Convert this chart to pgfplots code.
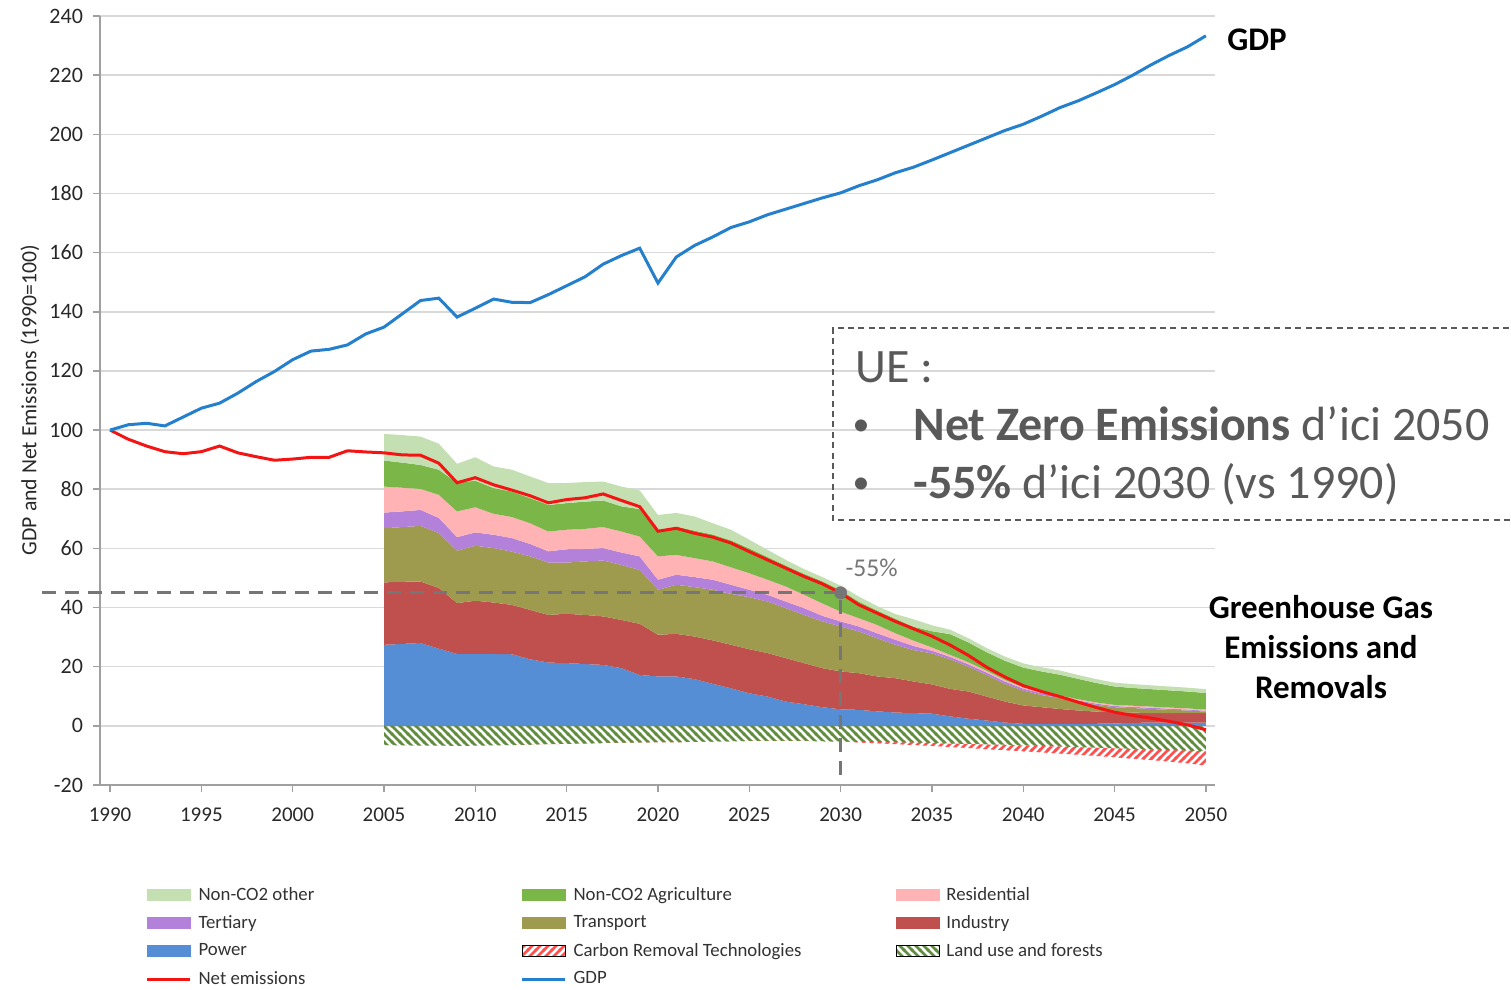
\documentclass[border=0pt]{standalone}
\usepackage{fontspec}
\setmainfont{Carlito}
\usepackage{pgfplots}
\usepackage{pgfplotstable}
\pgfplotsset{compat=1.18}
\usepgfplotslibrary{fillbetween}
\usetikzlibrary{patterns}

\pgfdeclarepatternformonly{hatchNE}{\pgfqpoint{-1pt}{-1pt}}{\pgfqpoint{5pt}{5pt}}{\pgfqpoint{4pt}{4pt}}{%
  \pgfsetlinewidth{1.4pt}%
  \pgfpathmoveto{\pgfqpoint{-0.5pt}{-0.5pt}}%
  \pgfpathlineto{\pgfqpoint{4.5pt}{4.5pt}}%
  \pgfusepath{stroke}}
\pgfdeclarepatternformonly{hatchNW}{\pgfqpoint{-1pt}{-1pt}}{\pgfqpoint{5pt}{5pt}}{\pgfqpoint{4pt}{4pt}}{%
  \pgfsetlinewidth{1.4pt}%
  \pgfpathmoveto{\pgfqpoint{-0.5pt}{4.5pt}}%
  \pgfpathlineto{\pgfqpoint{4.5pt}{-0.5pt}}%
  \pgfusepath{stroke}}

\definecolor{cother}{RGB}{196,224,178}
\definecolor{cagri}{RGB}{122,182,72}
\definecolor{cres}{RGB}{255,179,181}
\definecolor{cter}{RGB}{179,129,217}
\definecolor{ctra}{RGB}{158,154,78}
\definecolor{cind}{RGB}{192,80,77}
\definecolor{cpow}{RGB}{85,142,213}
\definecolor{cnet}{RGB}{245,20,20}
\definecolor{cgdp}{RGB}{36,128,204}
\definecolor{clu}{RGB}{96,140,62}
\definecolor{ccrt}{RGB}{255,80,80}
\definecolor{gridc}{RGB}{217,217,217}
\definecolor{axc}{RGB}{160,160,160}
\definecolor{tickc}{RGB}{40,40,40}
\definecolor{legc}{RGB}{50,50,50}
\definecolor{dashc}{RGB}{118,118,118}
\definecolor{boxc}{RGB}{89,89,89}

\pgfplotstableread{
year gdp net
1990 100 100
1991 101.8 96.9
1992 102.3 94.6
1993 101.4 92.7
1994 104.4 92.0
1995 107.4 92.7
1996 109.1 94.6
1997 112.5 92.3
1998 116.4 91.0
1999 119.8 89.8
2000 123.8 90.2
2001 126.7 90.8
2002 127.3 90.8
2003 128.8 93.0
2004 132.5 92.6
2005 134.8 92.3
2006 139.3 91.6
2007 143.8 91.5
2008 144.6 88.8
2009 138.2 82.2
2010 141.2 83.9
2011 144.3 81.5
2012 143.2 79.7
2013 143.1 77.8
2014 145.8 75.4
2015 148.8 76.5
2016 151.8 77.1
2017 156.1 78.4
2018 159.0 76.2
2019 161.5 74.1
2020 149.7 65.8
2021 158.5 66.8
2022 162.4 65.1
2023 165.3 63.8
2024 168.5 61.8
2025 170.4 58.9
2026 172.8 56.1
2027 174.7 53.3
2028 176.6 50.5
2029 178.5 48.0
2030 180.2 44.9
2031 182.6 40.9
2032 184.6 38.1
2033 187.0 35.3
2034 188.9 32.8
2035 191.3 30.3
2036 193.8 27.3
2037 196.3 23.8
2038 198.8 19.8
2039 201.3 16.5
2040 203.4 13.6
2041 206.1 11.6
2042 209.0 9.9
2043 211.3 8.0
2044 214.0 6.2
2045 216.8 4.6
2046 220.0 3.5
2047 223.5 2.6
2048 226.7 1.5
2049 229.6 0.3
2050 233.3 -1.3
}\maintab

\pgfplotstableread{
year pw ind tr te re ag ot lu crt
2005 27.4 48.5 66.8 72.1 80.9 89.7 98.7 -6.5 -6.5
2006 27.7 48.7 67.2 72.5 80.5 89.0 98.3 -6.6 -6.6
2007 28.0 48.8 67.6 73.0 80.1 88.2 97.8 -6.7 -6.7
2008 26.1 46.6 65.2 70.3 78.1 86.6 95.4 -6.7 -6.7
2009 24.3 41.5 59.2 63.8 72.5 82.1 88.6 -6.8 -6.8
2010 24.3 42.3 60.9 65.4 73.9 82.9 90.8 -6.7 -6.7
2011 24.3 41.7 60.1 64.6 71.7 80.4 87.7 -6.6 -6.6
2012 24.2 40.9 58.9 63.5 70.6 79.2 86.6 -6.5 -6.5
2013 22.5 39.2 57.3 61.5 68.5 77.0 84.3 -6.4 -6.4
2014 21.4 37.5 55.2 59.0 65.7 74.7 82.1 -6.2 -6.2
2015 21.2 37.9 55.2 59.7 66.3 75.3 82.1 -6.1 -6.1
2016 20.9 37.5 55.6 59.8 66.6 75.8 82.4 -6.0 -6.0
2017 20.6 37.0 55.9 60.1 67.2 76.2 82.6 -5.8 -5.8
2018 19.5 35.8 54.4 58.6 65.7 74.2 80.9 -5.7 -5.7
2019 17.2 34.5 52.7 57.3 64.0 73.3 79.6 -5.6 -5.6
2020 16.7 30.8 46.0 49.4 57.3 65.7 71.3 -5.5 -5.5
2021 16.7 31.1 47.7 51.1 57.8 67.4 72.0 -5.5 -5.5
2022 15.8 30.2 46.9 50.3 56.7 66.0 70.8 -5.4 -5.4
2023 14.2 28.9 46.0 49.4 55.6 64.7 68.5 -5.3 -5.3
2024 12.7 27.4 44.6 47.7 53.6 62.7 66.3 -5.2 -5.2
2025 11.0 25.9 43.5 46.0 51.6 60.0 62.9 -5.1 -5.1
2026 9.9 24.6 42.0 44.3 49.4 57.1 59.5 -5.1 -5.1
2027 8.2 22.9 39.8 42.0 47.1 54.2 56.1 -5.1 -5.1
2028 7.3 21.2 37.5 39.8 44.3 51.4 53.0 -5.1 -5.1
2029 6.3 19.5 35.3 37.2 41.4 48.9 50.3 -5.2 -5.2
2030 5.6 18.4 33.6 35.3 38.6 45.9 47.4 -5.3 -5.3
2031 5.4 17.8 31.9 33.6 36.4 42.0 43.7 -5.4 -5.6
2032 4.9 16.7 29.6 31.3 34.1 39.0 40.5 -5.5 -5.9
2033 4.5 16.1 27.4 29.1 31.3 36.2 37.8 -5.6 -6.2
2034 4.3 15.0 25.6 27.0 28.8 33.5 36.0 -5.7 -6.5
2035 4.1 14.0 24.5 25.4 26.5 32.0 34.0 -5.8 -6.8
2036 3.2 12.5 22.5 23.3 24.0 31.0 32.5 -6.0 -7.2
2037 2.4 11.6 20.0 20.8 21.5 28.2 29.6 -6.1 -7.5
2038 1.8 9.9 17.2 18.0 18.6 24.9 26.3 -6.3 -7.9
2039 1.1 8.2 14.2 15.0 15.5 22.0 23.4 -6.4 -8.2
2040 0.7 6.9 11.9 12.6 13.0 19.7 21.1 -6.6 -8.6
2041 0.7 6.3 10.4 11.0 11.5 18.4 19.8 -6.8 -9.0
2042 0.7 5.7 9.4 9.9 10.3 17.3 18.7 -7.0 -9.4
2043 0.7 5.2 8.1 8.6 9.0 15.9 17.2 -7.2 -9.8
2044 0.7 4.8 7.1 7.5 7.9 14.5 15.8 -7.4 -10.2
2045 0.8 4.6 6.3 6.7 7.1 13.3 14.6 -7.6 -10.6
2046 1.0 4.5 6.0 6.4 6.8 12.8 14.1 -7.8 -11.1
2047 1.1 4.3 5.7 6.1 6.5 12.4 13.7 -8.0 -11.6
2048 1.1 4.3 5.4 5.8 6.2 12.0 13.3 -8.2 -12.1
2049 1.1 4.3 5.2 5.5 5.9 11.6 12.9 -8.4 -12.7
2050 1.1 4.3 4.8 5.1 5.5 11.1 12.4 -8.6 -13.4
}\stacktab

\newcommand{\lent}[1]{\makebox[161pt][l]{\hspace*{1.6pt}#1}}

\begin{document}
\begin{tikzpicture}[x=0.5pt,y=0.5pt]
\begin{axis}[
  at={(50pt,102.5pt)}, anchor=south west,
  scale only axis, width=557.5pt, height=384.5pt,
  xmin=1989.45, xmax=2050.5, ymin=-20, ymax=240,
  xtick={1990,1995,...,2050}, ytick={-20,0,...,240},
  axis x line*=bottom, axis y line*=left,
  axis line style={draw=axc, line width=0.75pt, -},
  ymajorgrids, grid style={draw=gridc, line width=0.75pt},
  tick align=outside, major tick length=3.5pt,
  tick style={draw=axc, line width=0.75pt},
  /pgf/number format/assume math mode=true,
  xticklabel style={/pgf/number format/1000 sep={}, yshift=-4.5pt, font=\fontsize{10.5}{12}\selectfont, text=tickc},
  yticklabel style={xshift=-1.5pt, font=\fontsize{11}{12}\selectfont, text=tickc},
  clip=false,
  legend columns=3, legend cell align=left,
  legend style={at={(axis description cs:0.0408,-0.1295)}, anchor=north west,
    draw=none, fill=none, inner sep=0pt,
    font=\fontsize{9.4}{11}\selectfont, text=legc,
    nodes={inner xsep=1.75pt, inner ysep=1pt},
    row sep=4pt, column sep=0pt, cells={anchor=west}},
]
% legend
\addlegendimage{legend image code/.code={\fill[cother] (0pt,-2.75pt) rectangle (21.5pt,2.75pt);}}
\addlegendentry{\lent{Non-CO2 other}}
\addlegendimage{legend image code/.code={\fill[cagri] (0pt,-2.75pt) rectangle (21.5pt,2.75pt);}}
\addlegendentry{\lent{Non-CO2 Agriculture}}
\addlegendimage{legend image code/.code={\fill[cres] (0pt,-2.75pt) rectangle (21.5pt,2.75pt);}}
\addlegendentry{\lent{Residential}}
\addlegendimage{legend image code/.code={\fill[cter] (0pt,-2.75pt) rectangle (21.5pt,2.75pt);}}
\addlegendentry{\lent{Tertiary}}
\addlegendimage{legend image code/.code={\fill[ctra] (0pt,-2.75pt) rectangle (21.5pt,2.75pt);}}
\addlegendentry{\lent{Transport}}
\addlegendimage{legend image code/.code={\fill[cind] (0pt,-2.75pt) rectangle (21.5pt,2.75pt);}}
\addlegendentry{\lent{Industry}}
\addlegendimage{legend image code/.code={\fill[cpow] (0pt,-2.75pt) rectangle (21.5pt,2.75pt);}}
\addlegendentry{\lent{Power}}
\addlegendimage{legend image code/.code={\fill[pattern=hatchNE, pattern color=ccrt] (0pt,-2.75pt) rectangle (21.5pt,2.75pt);}}
\addlegendentry{\lent{Carbon Removal Technologies}}
\addlegendimage{legend image code/.code={\fill[pattern=hatchNW, pattern color=clu] (0pt,-2.75pt) rectangle (21.5pt,2.75pt);}}
\addlegendentry{\lent{Land use and forests}}
\addlegendimage{legend image code/.code={\draw[cnet, line width=1.5pt] (0pt,0pt) -- (21.5pt,0pt);}}
\addlegendentry{\lent{Net emissions}}
\addlegendimage{legend image code/.code={\draw[cgdp, line width=1.5pt] (0pt,0pt) -- (21.5pt,0pt);}}
\addlegendentry{\lent{GDP}}

% paths
\addplot[draw=none, forget plot, name path=zero] table[x=year, y expr=0]{\stacktab};
\addplot[draw=none, forget plot, name path=pw] table[x=year, y=pw]{\stacktab};
\addplot[draw=none, forget plot, name path=ind] table[x=year, y=ind]{\stacktab};
\addplot[draw=none, forget plot, name path=tr] table[x=year, y=tr]{\stacktab};
\addplot[draw=none, forget plot, name path=te] table[x=year, y=te]{\stacktab};
\addplot[draw=none, forget plot, name path=re] table[x=year, y=re]{\stacktab};
\addplot[draw=none, forget plot, name path=ag] table[x=year, y=ag]{\stacktab};
\addplot[draw=none, forget plot, name path=ot] table[x=year, y=ot]{\stacktab};
\addplot[draw=none, forget plot, name path=lu] table[x=year, y=lu]{\stacktab};
\addplot[draw=none, forget plot, name path=crt] table[x=year, y=crt]{\stacktab};

\addplot[fill=cpow, draw=none, forget plot] fill between[of=pw and zero];
\addplot[fill=cind, draw=none, forget plot] fill between[of=ind and pw];
\addplot[fill=ctra, draw=none, forget plot] fill between[of=tr and ind];
\addplot[fill=cter, draw=none, forget plot] fill between[of=te and tr];
\addplot[fill=cres, draw=none, forget plot] fill between[of=re and te];
\addplot[fill=cagri, draw=none, forget plot] fill between[of=ag and re];
\addplot[fill=cother, draw=none, forget plot] fill between[of=ot and ag];
\addplot[pattern=hatchNW, pattern color=clu, draw=none, forget plot] fill between[of=zero and lu];
\addplot[pattern=hatchNE, pattern color=ccrt, draw=none, forget plot] fill between[of=lu and crt];

\addplot[cnet, line width=1.5pt, forget plot] table[x=year, y=net]{\maintab};
\addplot[cgdp, line width=1.5pt, forget plot] table[x=year, y=gdp]{\maintab};

\addplot[dashc, line width=1.5pt, dash pattern=on 7pt off 4.5pt, forget plot] coordinates {(1986.3,45) (2030,45) (2030,-18.3)};
\addplot[only marks, mark=*, mark size=3pt, color=dashc, forget plot] coordinates {(2030,45)};

\node[font=\fontsize{12.8}{14}\selectfont, text=dashc] at (axis cs:2031.7,53.4) {-55\%};
\node[font=\fontsize{16.5}{18}\selectfont\bfseries, text=black] at (axis cs:2052.8,232) {GDP};
\node[font=\fontsize{16.5}{20}\selectfont\bfseries, text=black, align=center] at (axis cs:2056.3,26.7) {Greenhouse Gas\\Emissions and\\Removals};
\end{axis}

\node[rotate=90, font=\fontsize{10.85}{12}\selectfont, text=tickc] at (30,590) {GDP and Net Emissions (1990=100)};

\draw[boxc, line width=0.6pt, dash pattern=on 3pt off 2.2pt] (1530,662) -- (833,662) -- (833,470) -- (1530,470);
\begin{scope}[every node/.style={inner sep=0pt, text=boxc, font=\fontsize{24}{28}\selectfont}]
\node[anchor=base west] at (855,607) {UE :};
\node[anchor=base west] at (913,549) {\textbf{Net Zero Emissions} d’ici 2050};
\node[anchor=base west] at (913,491) {\textbf{-55\%} d’ici 2030 (vs 1990)};
\end{scope}
\begin{scope}[every node/.style={inner sep=0pt, text=boxc, font=\fontsize{17}{20}\selectfont}]
\node[anchor=base] at (861,554) {\textbullet};
\node[anchor=base] at (861,496) {\textbullet};
\end{scope}
\pgfresetboundingbox
\path (0,0) rectangle (1511,990);
\end{tikzpicture}
\end{document}
